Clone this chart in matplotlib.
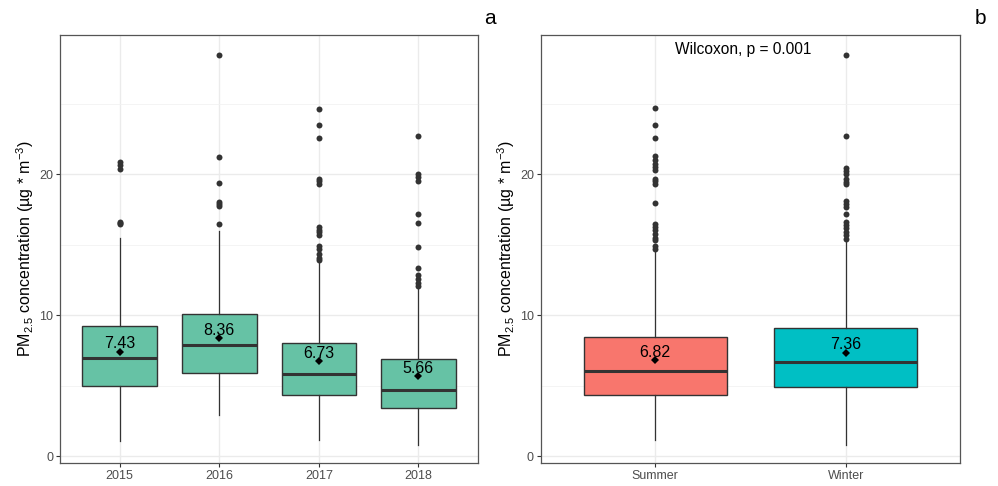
import numpy as np
import matplotlib
matplotlib.use('Agg')
import matplotlib.pyplot as plt

plt.rcParams['font.family'] = ['Liberation Sans', 'DejaVu Sans']
plt.rcParams['mathtext.fontset'] = 'custom'
plt.rcParams['mathtext.rm'] = 'Liberation Sans'
plt.rcParams['mathtext.it'] = 'Liberation Sans:italic'

# panel a: by year
years = ['2015', '2016', '2017', '2018']
year_q1 = [5.0, 5.9, 4.34, 3.44]
year_med = [6.96, 7.88, 5.87, 4.69]
year_q3 = [9.27, 10.07, 8.07, 6.89]
year_lo = [1.06, 2.9, 1.13, 0.83]
year_hi = [15.5, 15.97, 13.68, 11.91]
year_mean = [7.43, 8.36, 6.73, 5.66]
year_out = [
    [16.46, 16.55, 16.63, 20.4, 20.63, 20.87],
    [16.46, 17.74, 17.88, 18.04, 19.41, 21.25, 28.47],
    [13.92, 14.1, 14.34, 14.74, 14.9, 15.68, 15.9, 16.08, 16.27,
     19.34, 19.53, 19.69, 22.59, 23.49, 24.67],
    [12.08, 12.26, 12.55, 12.85, 13.37, 14.86, 16.56, 17.22,
     19.53, 19.81, 20.05, 22.71],
]

# panel b: by season
seasons = ['Summer', 'Winter']
season_q1 = [4.36, 4.88]
season_med = [6.06, 6.67]
season_q3 = [8.49, 9.13]
season_lo = [1.13, 0.83]
season_hi = [14.62, 15.45]
season_mean = [6.82, 7.36]
season_out = [
    [14.74, 14.9, 15.33, 15.52, 15.75, 16.04, 16.27, 16.5, 18.0,
     19.34, 19.53, 19.69, 20.33, 20.52, 20.75, 21.04, 21.27,
     22.59, 23.51, 24.69],
    [15.4, 15.68, 15.92, 16.16, 16.39, 16.63, 17.22, 17.69, 17.88,
     18.09, 19.29, 19.46, 19.69, 20.0, 20.24, 20.45, 22.71, 28.49],
]
p_text = 'Wilcoxon, p = 0.001'

ylabel = r'PM$_{\mathregular{2.5}}$ concentration (µg * m$^{\mathregular{-3}}$)'
dark = '#333333'


def panel(ax, cats, q1, med, q3, lo, hi, mean, outs, colors):
    n = len(cats)
    pos = np.arange(1, n + 1)
    stats = []
    for i in range(n):
        stats.append({'q1': q1[i], 'med': med[i], 'q3': q3[i],
                      'whislo': lo[i], 'whishi': hi[i], 'fliers': []})
    bp = ax.bxp(stats, positions=pos, widths=0.75, patch_artist=True,
                showcaps=False, showfliers=False,
                boxprops=dict(edgecolor=dark, linewidth=1.0),
                medianprops=dict(color=dark, linewidth=2.2),
                whiskerprops=dict(color=dark, linewidth=0.9), zorder=3)
    for patch, c in zip(bp['boxes'], colors):
        patch.set_facecolor(c)
    for i in range(n):
        ax.plot([pos[i]] * len(outs[i]), outs[i], 'o', color=dark,
                markersize=4.3, markeredgewidth=0, zorder=4)
        ax.plot(pos[i], mean[i], 'D', color='black', markersize=3.8,
                markeredgewidth=0, zorder=5)
        ax.annotate('%.2f' % mean[i], (pos[i], mean[i]), xytext=(0, 2.5),
                    textcoords='offset points', ha='center', va='baseline',
                    fontsize=11.5, color='black', zorder=6)
    ax.set_xlim(0.4, n + 0.6)
    ax.set_ylim(-0.48, 29.9)
    ax.set_xticks(pos)
    ax.set_xticklabels(cats)
    ax.set_yticks([0, 10, 20])
    ax.set_yticks([5, 15, 25], minor=True)
    ax.grid(True, which='major', color='#EBEBEB', linewidth=1.0, zorder=0)
    ax.grid(True, which='minor', axis='y', color='#F2F2F2', linewidth=0.6, zorder=0)
    ax.set_axisbelow(True)
    ax.tick_params(axis='both', which='major', length=3, color=dark, width=0.8,
                   labelsize=9, labelcolor='#4D4D4D', pad=2)
    ax.tick_params(axis='y', which='minor', length=0)
    for s in ax.spines.values():
        s.set_color('#555555')
        s.set_linewidth(0.9)
    ax.set_ylabel(ylabel, fontsize=11.5, labelpad=2)


fig = plt.figure(figsize=(9.98, 4.86), dpi=100)
ax1 = fig.add_axes([0.0601, 0.0473, 0.419, 0.881])
ax2 = fig.add_axes([0.542, 0.0473, 0.42, 0.881])

panel(ax1, years, year_q1, year_med, year_q3, year_lo, year_hi, year_mean,
      year_out, ['#66C2A5'] * 4)
panel(ax2, seasons, season_q1, season_med, season_q3, season_lo, season_hi,
      season_mean, season_out, ['#F8766D', '#00BFC4'])

ax2.text(1.46, 28.85, p_text, ha='center', va='center', fontsize=11.2)

fig.text(0.491, 0.962, 'a', fontsize=15, ha='center', va='center')
fig.text(0.982, 0.962, 'b', fontsize=15, ha='center', va='center')

fig.savefig('out.png', dpi=100)
